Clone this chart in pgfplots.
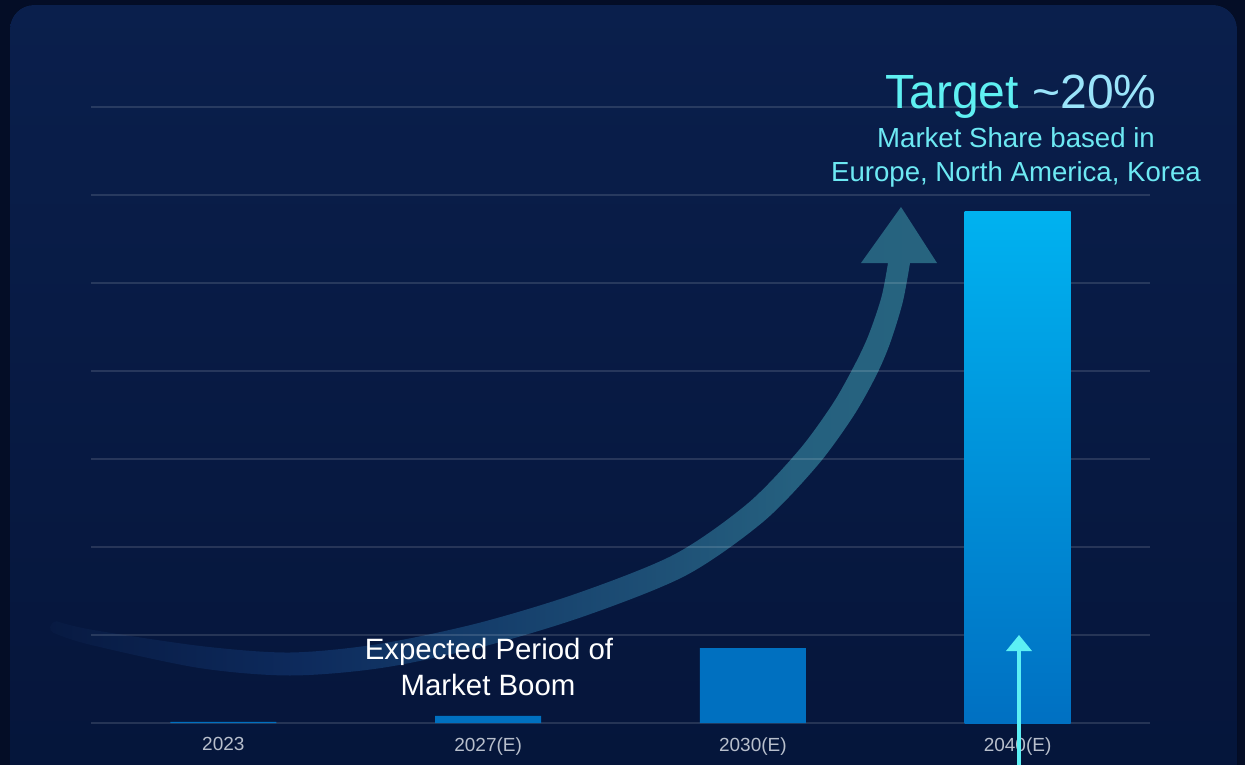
\documentclass[border=0pt]{standalone}
\usepackage{pgfplots}
\pgfplotsset{compat=1.18}
\usepackage{fontspec}
\setmainfont{Liberation Sans}
\definecolor{outerbg}{HTML}{040D26}
\definecolor{paneltop}{HTML}{0A1F4C}
\definecolor{panelbot}{HTML}{05153A}
\definecolor{barblue}{HTML}{0070C0}
\definecolor{bartop}{HTML}{00B2F0}
\definecolor{barbot}{HTML}{0070C2}
\definecolor{bandA}{HTML}{081A42}
\definecolor{bandB}{HTML}{0D2A5C}
\definecolor{bandC}{HTML}{143C6A}
\definecolor{bandD}{HTML}{1F5277}
\definecolor{bandE}{HTML}{25607F}
\definecolor{bandF}{HTML}{27647F}
\definecolor{ticklab}{HTML}{B8BFCC}
\definecolor{cyanA}{HTML}{5FF0F2}
\definecolor{cyanB}{HTML}{9AE4FA}
\definecolor{cyanC}{HTML}{6DE9F3}
\definecolor{arrowcyan}{HTML}{5CF0F4}
\pgfdeclarehorizontalshading{bandshade}{100bp}{color(0bp)=(bandA); color(25bp)=(bandA); color(39bp)=(bandB); color(49bp)=(bandC); color(60.5bp)=(bandD); color(67bp)=(bandE); color(75bp)=(bandF); color(100bp)=(bandF)}
\begin{document}
\begin{tikzpicture}
\useasboundingbox (0pt,0pt) rectangle (1245pt,-765pt);
\fill[outerbg] (0pt,0pt) rectangle (1245pt,-765pt);
\begin{scope}[x=1pt,y=-1pt]
  \fill[top color=paneltop, bottom color=panelbot, rounded corners=24pt] (10,5) rectangle (1237,800);
  % big curved arrow band
  \path[shading=bandshade]
    plot[smooth, tension=0.5] coordinates {(56.7,621.2) (91.7,629.7) (201.4,646.1) (290,652.5) (378.2,644.1) (477.0,623.4) (576.0,593.7) (674.2,554.5) (747.2,503.9) (798.8,450.3) (832.9,403.5) (854.3,365.5) (868.3,335.8) (881.4,297.3) (888,263)}
    -- (861,263) -- (901,207) -- (937,263) -- (910,263)
    -- plot[smooth, tension=0.5] coordinates {(910,263) (902.6,302.7) (889.7,344.2) (875.7,376.5) (853.1,416.5) (817.2,465.7) (762.8,522.1) (685.8,575.5) (584.0,616.3) (483.0,646.6) (381.8,667.9) (290,675.5) (198.6,667.9) (88.3,644.3) (53.3,632.8)}
    .. controls (48,631) and (49,622) .. (56.7,621.2) -- cycle;
\end{scope}
\begin{axis}[
  at={(91pt,-723pt)}, anchor=south west,
  scale only axis, width=1059pt, height=616pt,
  xmin=-0.5, xmax=3.5, ymin=0, ymax=7,
  xtick={0,1,2,3}, xticklabels={2023,2027(E),2030(E),2040(E)},
  ytick={0,1,2,3,4,5,6,7}, yticklabels={},
  ymajorgrids, grid style={white, opacity=0.13, line width=1.5pt},
  axis line style={draw=none}, major tick length=0pt, tick style={draw=none},
  xticklabel style={font=\fontsize{19}{23}\selectfont, text=ticklab, yshift=-11pt},
  clip=false,
  /pgf/number format/assume math mode=true,
]
\addplot[ybar, bar width=106pt, bar shift=0pt, draw=none, fill=barblue] coordinates {(0,0.012) (1,0.08) (2,0.852)};
\addplot[ybar, bar width=106pt, bar shift=0pt, draw=none, top color=bartop, bottom color=barbot] coordinates {(3,5.807)};
\end{axis}
\begin{scope}[x=1pt,y=-1pt]
  \node[anchor=base, inner sep=0pt, font=\fontsize{48}{58}\selectfont] at (1021,109) {{\color{cyanA}Target} {\color{cyanB}\textasciitilde 20\%}};
  \node[anchor=base, inner sep=0pt, text=cyanC, font=\fontsize{27.6}{33}\selectfont] at (1016,147) {Market Share based in};
  \node[anchor=base, inner sep=0pt, text=cyanC, font=\fontsize{27.6}{33}\selectfont] at (1016,181) {Europe, North America, Korea};
  \node[anchor=base, inner sep=0pt, text=white, font=\fontsize{29.4}{35}\selectfont] at (489,659) {Expected Period of};
  \node[anchor=base, inner sep=0pt, text=white, font=\fontsize{29.4}{35}\selectfont] at (488,695) {Market Boom};
  \draw[arrowcyan, line width=3.5pt] (1019,770) -- (1019,648);
  \fill[arrowcyan] (1006,651) -- (1019,635) -- (1032,651) -- cycle;
\end{scope}
\end{tikzpicture}
\end{document}
